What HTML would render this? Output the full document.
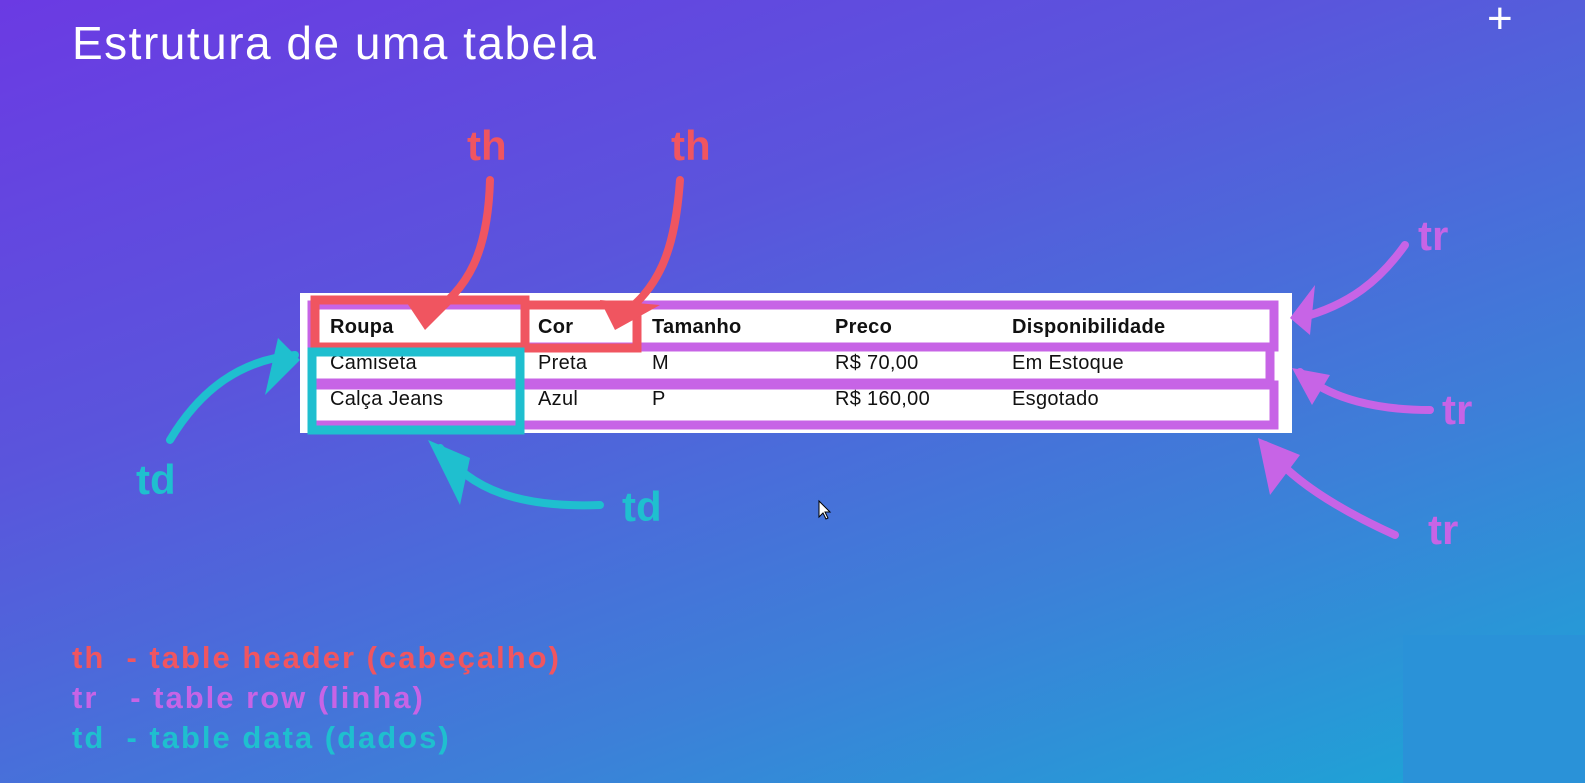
<!DOCTYPE html>
<html><head><meta charset="utf-8"><style>
html,body{margin:0;padding:0}
body{width:1585px;height:783px;overflow:hidden;position:relative;font-family:"Liberation Sans",sans-serif;
background:linear-gradient(160deg,#6b3ae3 0%,#5a55dc 35%,#3d7fd8 70%,#1aa8d6 100%);}
.t{position:absolute;white-space:nowrap}
#title{left:72px;top:16px;font-size:46px;color:#fff;letter-spacing:1.5px}
.lbl{position:absolute;font-weight:bold;font-size:42px}
.leg{position:absolute;left:72px;font-weight:bold;font-size:31px;letter-spacing:2px}
#tbl{position:absolute;left:300px;top:293px;width:992px;height:140px;background:#fff}
.cell{position:absolute;font-size:20px;color:#111;letter-spacing:0.3px}
.h{font-weight:bold}
</style></head><body>
<div id="title" class="t">Estrutura de uma tabela</div>
<div class="t" style="left:1487px;top:-6px;color:#fff;font-size:44px">+</div>

<div id="tbl">
 <div class="cell h" style="left:30px;top:23px">Roupa</div>
 <div class="cell h" style="left:238px;top:23px">Cor</div>
 <div class="cell h" style="left:352px;top:23px">Tamanho</div>
 <div class="cell h" style="left:535px;top:23px">Preco</div>
 <div class="cell h" style="left:712px;top:23px">Disponibilidade</div>
 <div class="cell" style="left:30px;top:59px">Camiseta</div>
 <div class="cell" style="left:238px;top:59px">Preta</div>
 <div class="cell" style="left:352px;top:59px">M</div>
 <div class="cell" style="left:535px;top:59px">R$ 70,00</div>
 <div class="cell" style="left:712px;top:59px">Em Estoque</div>
 <div class="cell" style="left:30px;top:95px">Calça Jeans</div>
 <div class="cell" style="left:238px;top:95px">Azul</div>
 <div class="cell" style="left:352px;top:95px">P</div>
 <div class="cell" style="left:535px;top:95px">R$ 160,00</div>
 <div class="cell" style="left:712px;top:95px">Esgotado</div>
</div>

<svg width="1585" height="783" style="position:absolute;left:0;top:0">
 <g fill="none" stroke="#c764e6" stroke-width="9">
  <rect x="312" y="305" width="962" height="42"/>
  <rect x="312" y="347" width="958" height="36"/>
  <rect x="312" y="385" width="962" height="40"/>
 </g>
 <g fill="none" stroke="#f05560" stroke-width="9">
  <rect x="315" y="300" width="210" height="47"/>
  <rect x="525" y="305" width="112" height="43"/>
 </g>
 <rect x="312" y="352" width="208" height="78" fill="none" stroke="#1fbfcf" stroke-width="9"/>
 <g fill="none" stroke-linecap="round" stroke-width="8">
  <path d="M490 180 C488 250 470 290 425 318" stroke="#f05560"/>
  <path d="M680 180 C675 250 660 290 615 320" stroke="#f05560"/>
  <path d="M170 440 C200 390 240 360 295 355" stroke="#1fbfcf"/>
  <path d="M600 505 C520 508 470 490 440 448" stroke="#1fbfcf"/>
  <path d="M1405 245 C1380 280 1350 305 1300 318" stroke="#c764e6"/>
  <path d="M1430 410 C1380 410 1330 400 1300 372" stroke="#c764e6"/>
  <path d="M1395 535 C1340 510 1290 480 1265 445" stroke="#c764e6"/>
 </g>
 <g stroke-linejoin="round">
  <polygon points="405,300 455,300 425,330" fill="#f05560"/>
  <polygon points="600,300 660,305 615,330" fill="#f05560"/>
  <polygon points="278,338 300,360 265,395" fill="#1fbfcf"/>
  <polygon points="428,440 470,458 460,505" fill="#1fbfcf"/>
  <polygon points="1290,318 1315,285 1310,335" fill="#c764e6"/>
  <polygon points="1292,368 1330,375 1312,405" fill="#c764e6"/>
  <polygon points="1258,438 1300,455 1270,495" fill="#c764e6"/>
 </g>
 <path d="M819 501 l0 16 l4 -4 l3 6 l2 -1 l-3 -6 l5 0 z" fill="#fff" stroke="#000" stroke-width="1"/>
</svg>

<div class="lbl t" style="left:467px;top:122px;color:#f05560">th</div>
<div class="lbl t" style="left:671px;top:122px;color:#f05560">th</div>
<div class="lbl t" style="left:136px;top:456px;color:#1fbfcf">td</div>
<div class="lbl t" style="left:622px;top:483px;color:#1fbfcf">td</div>
<div class="lbl t" style="left:1418px;top:212px;color:#c764e6">tr</div>
<div class="lbl t" style="left:1442px;top:386px;color:#c764e6">tr</div>
<div class="lbl t" style="left:1428px;top:506px;color:#c764e6">tr</div>

<div class="leg t" style="top:640px;color:#f05560">th&nbsp; - table header (cabeçalho)</div>
<div class="leg t" style="top:680px;color:#c764e6">tr&nbsp;&nbsp; - table row (linha)</div>
<div class="leg t" style="top:720px;color:#1fbfcf">td&nbsp; - table data (dados)</div>

<div style="position:absolute;left:1403px;top:635px;width:182px;height:148px;background:#2a92d8"></div>
</body></html>
